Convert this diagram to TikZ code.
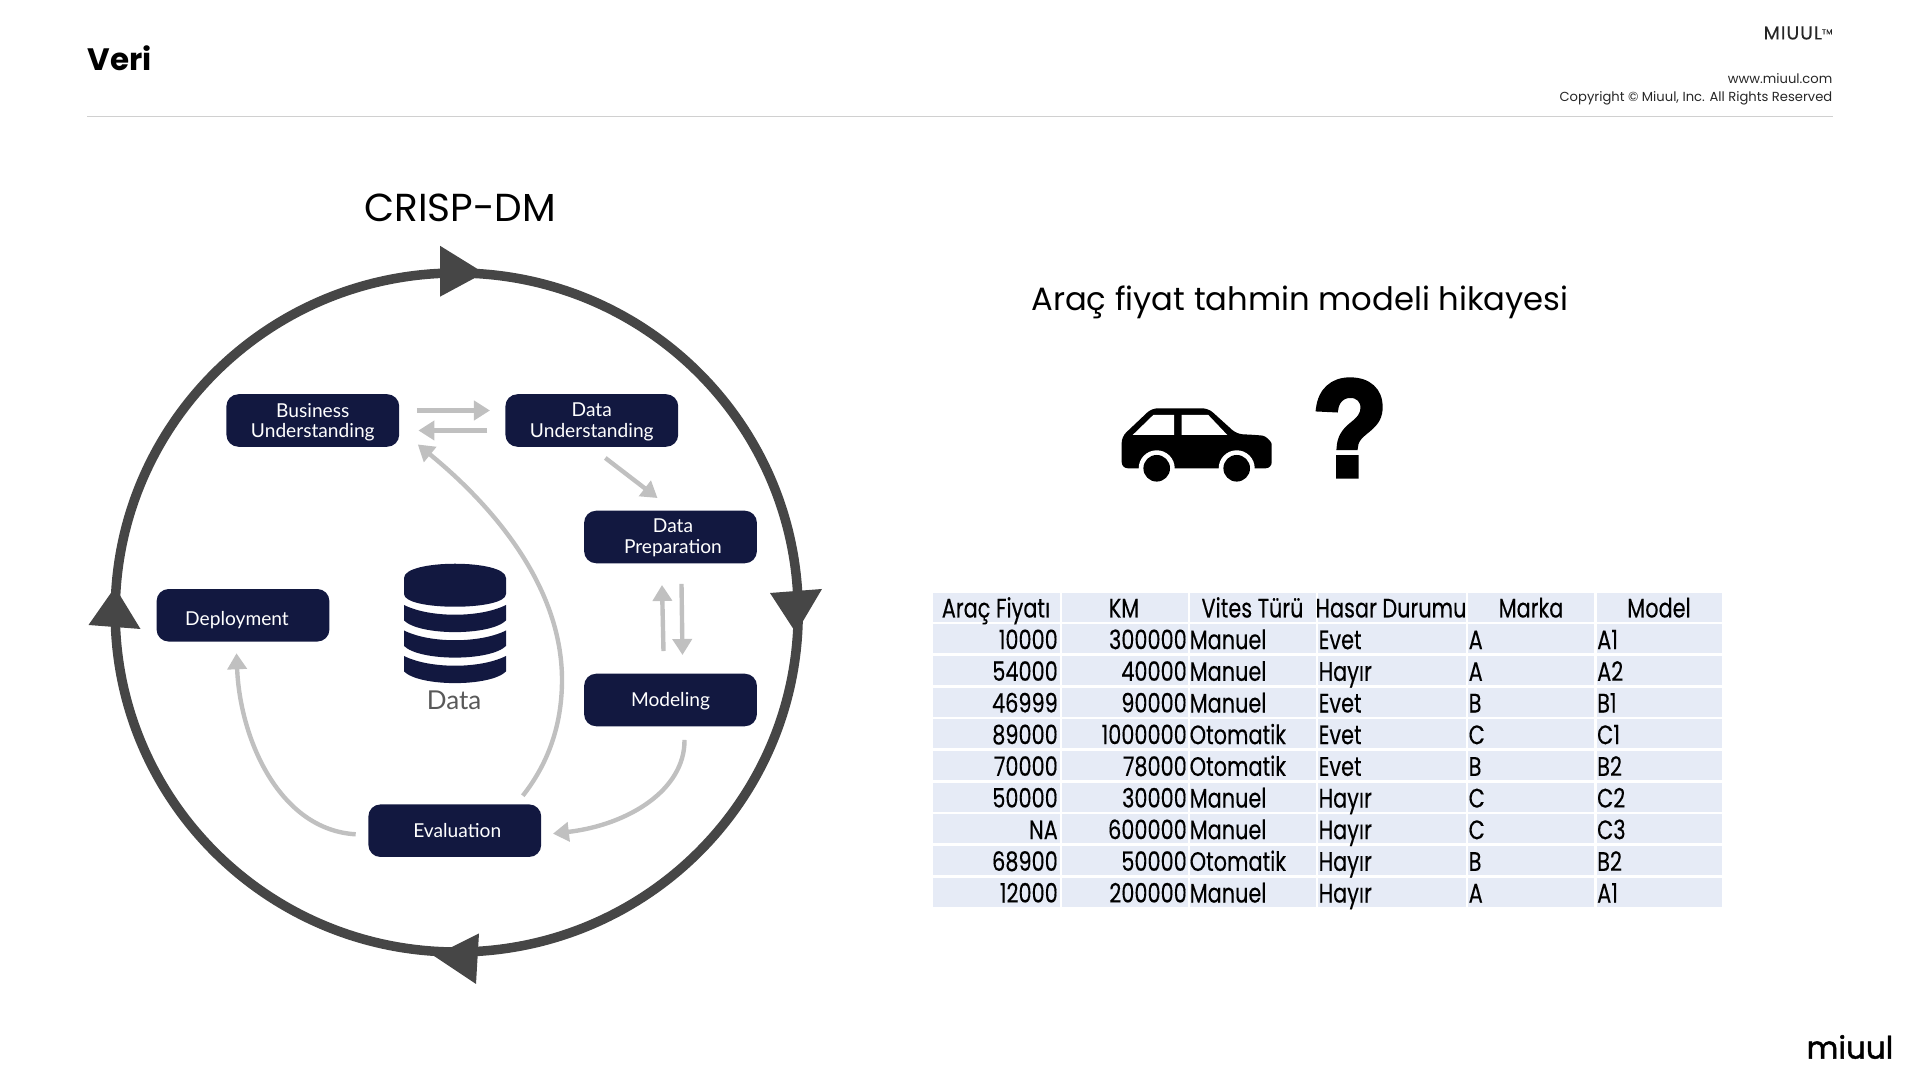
\documentclass[tikz,border=0pt]{standalone}
\usepackage{fontspec}
\setmainfont{Poppins}
\newfontfamily\tablefont[FakeStretch=0.78,FakeBold=0.25]{Poppins}
\newfontfamily\boxfont{Lato}
\newfontfamily\markfont[FakeBold=4,FakeStretch=0.88]{Liberation Sans}
\newfontfamily\logofont[FakeBold=1.5]{Poppins}
\usetikzlibrary{arrows.meta,calc}
\definecolor{boxnavy}{RGB}{18,24,64}
\definecolor{ringgrey}{RGB}{70,70,70}
\definecolor{flowgrey}{RGB}{192,192,192}
\definecolor{cellblue}{RGB}{230,235,246}
\definecolor{rulegrey}{RGB}{208,208,208}

\begin{document}
\begin{tikzpicture}[
    x=0.01cm, y=-0.01cm,
    phase/.style={draw=none, fill=boxnavy, rounded corners=1.2mm, minimum width=1.727cm, minimum height=0.525cm,
      inner sep=0pt, text=white, align=center, font=\boxfont\fontsize{5.45}{5.9}\selectfont},
    flow/.style={draw=flowgrey, line width=1.25pt, -{Triangle[length=1.6mm,width=1.9mm]}},
    ring/.style={draw=ringgrey, line width=2.7pt},
    head/.style={fill=ringgrey},
    tablecell/.style={font=\tablefont\fontsize{7.6}{8}\selectfont, inner sep=0pt, text=black},
    small/.style={inner sep=0pt, anchor=east, text=black!85},
  ]

  \useasboundingbox (0,0) rectangle (1920,1080);

  % page header
  \node[inner sep=0pt, anchor=west, font=\bfseries\fontsize{8.8}{10}\selectfont] (title) at (87,58) {Veri};
  \node[small, font=\fontsize{5.3}{6}\selectfont] (brand) at (1833,33) {\addfontfeature{LetterSpace=6,FakeBold=0.4}MIUUL\raisebox{0.5ex}{\fontsize{2}{2}\selectfont TM}};
  \node[small, font=\fontsize{3.73}{5}\selectfont] (web) at (1833,79) {www.miuul.com};
  \node[small, font=\fontsize{3.73}{5}\selectfont] (copy) at (1833,98) {Copyright © Miuul, Inc. All Rights Reserved};
  \draw[rulegrey, line width=0.4pt] (87,116.5) -- (1833,116.5);
  \node[inner sep=0pt, anchor=east, font=\logofont\fontsize{8.8}{10}\selectfont] (logo) at (1894,1047) {miuul};

  % left side
  \node[inner sep=0pt, font=\fontsize{11.1}{12}\selectfont] (crisp) at (460,208) {CRISP-DM};

  \draw[ring] (456.7,612.5) ellipse (341.5 and 339.5);
  \fill[head] (440,245.8) -- (484,273) -- (440,296.7) -- cycle;
  \fill[head] (770,593) -- (822,589) -- (796,633) -- cycle;
  \fill[head] (479,933.4) -- (476,984) -- (434,956) -- cycle;
  \fill[head] (88.5,625) -- (140.5,629) -- (115,587.2) -- cycle;

  \node[phase] (bu) at (312.8,420.5) {\rule{0pt}{5pt}Business\\Understanding};
  \node[phase] (du) at (591.8,420.5) {\rule{0pt}{4.6pt}Data\\Understanding};
  \node[phase] (dp) at (670.5,537) {\rule{0pt}{4.4pt}\hspace*{1.4pt}Data\\\hspace*{1.4pt}Preparation};
  \node[phase] (mo) at (670.5,700) {\rule{0pt}{4.6pt}Modeling};
  \node[phase] (ev) at (454.8,830.7) {\hspace*{1.4pt}Evaluation};
  \node[phase] (de) at (243,615.3) {\rule{0pt}{6.8pt}Deployment\hspace{3.4pt}};

  \draw[flow] ($(bu.east)+(17,-10)$) -- ($(du.west)+(-14.7,-10)$);
  \draw[flow] ($(du.west)+(-17.2,10)$) -- ($(bu.east)+(18.5,10)$);
  \draw[flow] ($(du.south)+(13.5,10.5)$) -- ($(dp.north)+(-13,-12)$);
  \draw[flow] ($(dp.south)+(11,20)$) -- ($(mo.north)+(12,-18)$);
  \draw[flow] ($(mo.north)+(-7,-22)$) -- ($(dp.south)+(-8.5,21)$);
  \draw[flow] ($(mo.south)+(14,13)$) .. controls (685,790) and (628,825) .. ($(ev.east)+(11,3)$);
  \draw[flow] ($(ev.north)+(68,-8)$) .. controls (551,760) and (562,720) .. (562,680) .. controls (562,590) and (498,510) .. ($(bu.south)+(105,-3)$);
  \draw[flow] ($(ev.west)+(-12,3.6)$) .. controls (280,830) and (240,740) .. ($(de.south)+(-6.5,11)$);

  % database icon
  \fill[boxnavy] (404,578) .. controls (404,559) and (506,559) .. (506,578) -- (506,594)
    .. controls (506,611) and (404,611) .. (404,594) -- cycle;
  \foreach \by in {605,630.5,656} {
    \fill[boxnavy] (404,\by) .. controls (430,{\by+13}) and (480,{\by+13}) .. (506,\by) -- (506,{\by+15.5})
      .. controls (490,{\by+31}) and (420,{\by+31}) .. (404,{\by+15.5}) -- cycle;
  }
  \node[inner sep=0pt, text=black!65, font=\boxfont\fontsize{7.4}{8}\selectfont] (dat) at (454,700.5) {Data};

  % right side
  \node[inner sep=0pt, font=\fontsize{9.17}{10}\selectfont] (story) at (1300,302) {Araç fiyat tahmin modeli hikayesi};

  % car
  \fill[black, rounded corners=0.6mm] (1121.7,436.7) -- (1151.7,408.3) -- (1208.3,408.3) -- (1236.7,434) -- (1256.7,435)
    .. controls (1266,436) and (1271.7,442) .. (1271.7,450) -- (1271.7,468.3) -- (1121.7,468.3) -- cycle;
  \fill[white] (1132.7,435) -- (1153.3,415) -- (1174,415) -- (1174,435) -- cycle;
  \fill[white] (1181.7,415) -- (1208.3,415) -- (1227.3,435) -- (1181.7,435) -- cycle;
  \foreach \wx in {1156.7,1236.7} {
    \fill[white] (\wx,468.3) circle (18);
    \fill[black] (\wx,468.3) circle (13.3);
  }
  \node[inner sep=0pt, font=\markfont\bfseries\fontsize{39}{40}\selectfont] (mark) at (1350,428) {?};

  % table
  \foreach \cx/\cw in {933/126.8,1062/125.5,1189.6/126.2,1318/147.5,1468/126.3,1596.5/125.5} {
    \foreach \ry in {0,...,9} {
      \fill[cellblue] (\cx,{592.7+31.67*\ry}) rectangle ({\cx+\cw},{592.7+31.67*\ry+29});
    }
  }
  \foreach \hx/\htext [count=\hi] in {996/Araç Fiyatı,1124/KM,1252.5/Vites Türü,1391/Hasar Durumu,1531/Marka,1659/Model} {
    \node[tablecell, anchor=base] (h\hi) at (\hx,617.5) {\htext};
  }
  \foreach \fiyat/\km/\vites/\hasar/\marka/\model [count=\ri] in {
      10000/300000/Manuel/Evet/A/A1,
      54000/40000/Manuel/Hayır/A/A2,
      46999/90000/Manuel/Evet/B/B1,
      89000/1000000/Otomatik/Evet/C/C1,
      70000/78000/Otomatik/Evet/B/B2,
      50000/30000/Manuel/Hayır/C/C2,
      NA/600000/Manuel/Hayır/C/C3,
      68900/50000/Otomatik/Hayır/B/B2,
      12000/200000/Manuel/Hayır/A/A1} {
    \pgfmathsetmacro\ty{617.5+31.67*\ri}
    \node[tablecell, anchor=base east] (fi\ri) at (1058.5,\ty) {\fiyat};
    \node[tablecell, anchor=base east] (km\ri) at (1187.5,\ty) {\km};
    \node[tablecell, anchor=base west] (vi\ri) at (1189,\ty) {\vites};
    \node[tablecell, anchor=base west] (ha\ri) at (1318,\ty) {\hasar};
    \node[tablecell, anchor=base west] (ma\ri) at (1468,\ty) {\marka};
    \node[tablecell, anchor=base west] (mo\ri) at (1596.5,\ty) {\model};
  }

\end{tikzpicture}
\end{document}
